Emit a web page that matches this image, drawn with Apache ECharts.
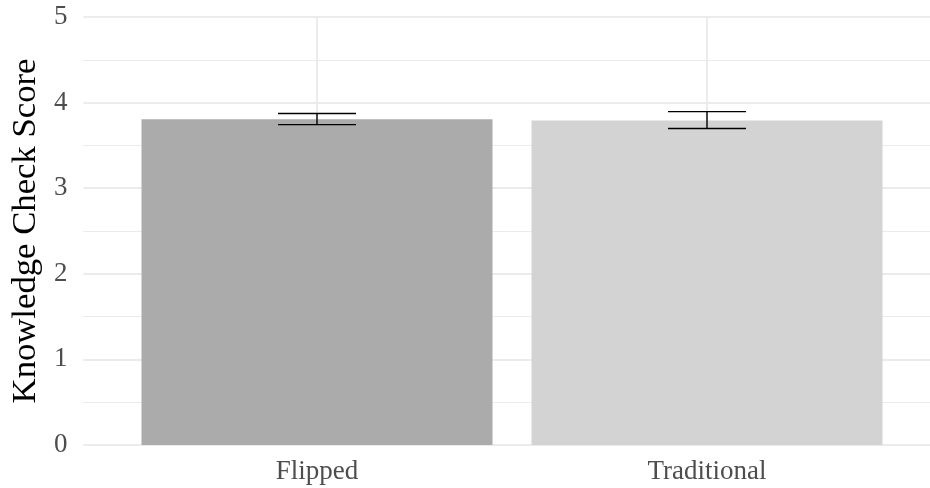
<!DOCTYPE html>
<html>
<head>
<meta charset="utf-8">
<script src="https://cdn.jsdelivr.net/npm/echarts@6/dist/echarts.min.js"></script>
<style>
html,body{margin:0;padding:0;background:#fff;}
#chart{width:930px;height:488px;}
</style>
</head>
<body>
<div id="chart"></div>
<script>
var categories = ['Flipped', 'Traditional'];
var means = [3.805, 3.79];
var lower = [3.743, 3.697];
var upper = [3.872, 3.895];
var barColors = ['#ababab', '#d3d3d3'];
var yTicks = [0, 1, 2, 3, 4, 5];

var font = 'Liberation Serif';
var chart = echarts.init(document.getElementById('chart'), null, {renderer: 'canvas'});

var barData = means.map(function (m, i) {
  return {value: m, itemStyle: {color: barColors[i]}};
});
var errData = categories.map(function (c, i) {
  return [i, lower[i], upper[i]];
});

var option = {
  backgroundColor: '#ffffff',
  animation: false,
  grid: [
    {left: 83, top: 17, width: 858, height: 428},
    {left: 317, top: 17, width: 390, height: 428}
  ],
  xAxis: [
    {gridIndex: 0, type: 'value', min: 0, max: 1, show: false, splitLine: {show: false}},
    {
      gridIndex: 1, type: 'category', data: categories, boundaryGap: false,
      axisLine: {show: false}, axisTick: {show: false},
      axisLabel: {fontFamily: font, fontSize: 27, color: '#4d4d4d', margin: 13},
      splitLine: {show: true, lineStyle: {color: '#ebebeb', width: 2}}
    }
  ],
  yAxis: [
    {
      gridIndex: 0, type: 'value', min: yTicks[0], max: yTicks[yTicks.length - 1], interval: 1,
      axisLine: {show: false}, axisTick: {show: false},
      axisLabel: {fontFamily: font, fontSize: 27, color: '#4d4d4d', margin: 16},
      splitLine: {show: true, lineStyle: {color: '#ebebeb', width: 2}},
      minorTick: {show: false, splitNumber: 2},
      minorSplitLine: {show: true, lineStyle: {color: '#ebebeb', width: 1}},
      name: 'Knowledge Check Score', nameLocation: 'middle', nameGap: 40,
      nameTextStyle: {fontFamily: font, fontSize: 34.7, color: '#000000'}
    },
    {gridIndex: 1, type: 'value', min: 0, max: 5, show: false, splitLine: {show: false}}
  ],
  series: [
    {
      type: 'bar', xAxisIndex: 1, yAxisIndex: 1, data: barData,
      barWidth: 351, clip: false, z: 2
    },
    {
      type: 'custom', xAxisIndex: 1, yAxisIndex: 1, data: errData, clip: false, z: 3,
      renderItem: function (params, api) {
        var x = api.value(0);
        var lo = api.coord([x, api.value(1)]);
        var hi = api.coord([x, api.value(2)]);
        var half = api.size([1, 0])[0] * 0.1;
        var style = {stroke: '#000000', lineWidth: 1.4};
        return {
          type: 'group',
          children: [
            {type: 'line', shape: {x1: lo[0], y1: lo[1], x2: hi[0], y2: hi[1]}, style: style},
            {type: 'line', shape: {x1: lo[0] - half, y1: lo[1], x2: lo[0] + half, y2: lo[1]}, style: style},
            {type: 'line', shape: {x1: hi[0] - half, y1: hi[1], x2: hi[0] + half, y2: hi[1]}, style: style}
          ]
        };
      }
    }
  ]
};
chart.setOption(option);
</script>
</body>
</html>
